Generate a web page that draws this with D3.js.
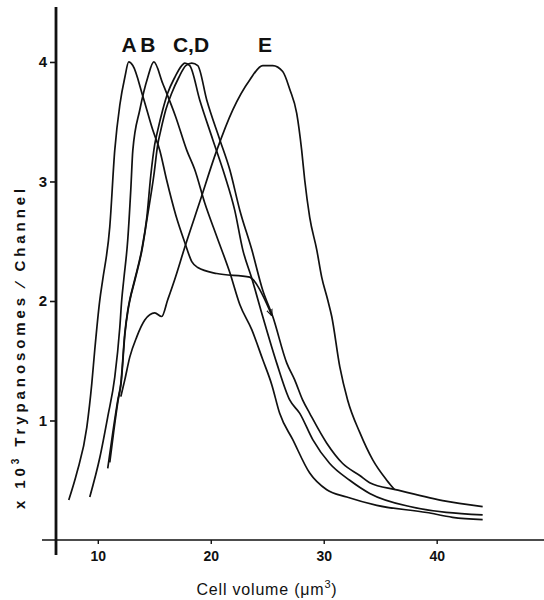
<!DOCTYPE html>
<html>
<head>
<meta charset="utf-8">
<script src="https://cdn.jsdelivr.net/npm/d3@7"></script>
<style>
  html, body { margin: 0; padding: 0; background: #fff; }
  svg { display: block; font-family: "Liberation Sans", Arial, sans-serif; }
</style>
</head>
<body>
<svg id="chart" width="544" height="600"></svg>
<script>
// ---- data (cell volume µm³, x10³ trypanosomes / channel) ----
const seriesA = [[7.43,0.335],[8.14,0.56],[9.03,0.945],[9.47,1.31],[9.73,1.59],[10.18,2.01],[10.44,2.18],
  [11.06,2.62],[11.5,3.26],[11.95,3.64],[12.39,3.87],[12.74,4.0],[13.1,3.97],[14.0,3.71],[14.87,3.43],
  [15.49,3.26],[16.1,3.01],[16.9,2.72],[17.7,2.49],[18.32,2.33],[18.85,2.28],[20.53,2.23],[23.45,2.2],
  [23.72,2.18],[25.4,1.88]];
const seriesB = [[9.29,0.36],[10.18,0.69],[10.88,1.03],[11.5,1.36],[11.95,1.78],[12.12,2.01],[12.3,2.18],
  [12.65,2.51],[12.92,2.93],[13.1,3.26],[13.72,3.6],[14.42,3.87],[14.96,4.0],[15.75,3.82],[16.9,3.54],
  [17.88,3.26],[18.58,3.1],[19.47,2.82],[20.53,2.54],[21.68,2.24],[22.57,1.97],[23.63,1.76],[24.6,1.51],
  [25.4,1.3],[26.1,1.06],[27.26,0.84],[28.76,0.56],[30.27,0.42],[32.04,0.36],[34.7,0.29],[39.12,0.23],
  [41.4,0.19],[44.07,0.17]];
const seriesC = [[10.88,0.6],[11.33,0.9],[11.77,1.17],[12.04,1.31],[12.39,1.73],[12.65,1.92],[12.83,2.01],
  [13.27,2.18],[13.89,2.43],[14.34,2.7],[14.69,3.05],[15.04,3.31],[15.31,3.43],[15.75,3.6],[16.19,3.74],
  [16.81,3.87],[17.43,3.97],[17.7,3.99],[18.14,3.97],[19.03,3.68],[20.18,3.35],[21.24,3.05],[22.12,2.76],
  [22.83,2.43],[23.63,2.19],[24.6,1.87],[25.84,1.48],[27.0,1.17],[27.88,1.06],[29.03,0.84],[30.53,0.64],
  [32.3,0.5],[34.07,0.39],[37.61,0.28],[44.07,0.21]];
const seriesD = [[11.06,0.65],[11.4,0.9],[11.8,1.17],[12.06,1.31],[12.41,1.73],[12.67,1.92],[12.85,2.01],
  [13.3,2.18],[13.92,2.43],[14.38,2.7],[14.96,3.05],[15.31,3.31],[15.58,3.43],[16.02,3.6],[16.55,3.74],
  [17.17,3.87],[17.79,3.97],[18.32,3.99],[18.85,3.97],[19.65,3.68],[20.8,3.35],[21.68,3.1],[22.57,2.76],
  [23.63,2.43],[24.6,2.09],[25.49,1.87],[26.73,1.48],[27.43,1.34],[28.14,1.17],[28.76,1.06],[30.27,0.81],
  [31.68,0.64],[33.19,0.54],[34.07,0.48],[36.46,0.42],[40.53,0.33],[44.07,0.28]];
const seriesE = [[12.04,1.2],[12.39,1.34],[12.83,1.53],[13.45,1.7],[14.16,1.84],[15.04,1.9],[15.66,1.87],
  [16.19,2.01],[16.81,2.18],[17.7,2.45],[19.03,2.83],[20.53,3.26],[21.95,3.6],[23.45,3.85],[24.6,3.97],
  [25.49,3.97],[26.37,3.92],[27.0,3.77],[27.61,3.57],[28.05,3.26],[28.32,3.01],[28.76,2.7],[29.38,2.43],
  [29.82,2.2],[30.35,2.01],[30.71,1.87],[31.42,1.45],[32.12,1.17],[33.19,0.9],[34.34,0.67],[35.58,0.5],
  [36.28,0.42]];

const curveNames = ["A","B","C","D","E"];
const peakLabels = ["A","B","C,D","E"];
const peakLabelX = [12.76, 14.44, 18.25, 24.8];
const peakLabelY = 4.08;
const xTicks = [10,20,30,40];
const yTicks = [1,2,3,4];
const xTitle = "Cell volume (\u03BCm";
const yTitleParts = ["x 10", "3", " Trypanosomes \u2044 Channel"];

// ---- layout ----
const svg = d3.select("#chart");
const x = d3.scaleLinear().domain([6.3, 49.5]).range([56, 544]);
const y = d3.scaleLinear().domain([0, 4.46]).range([540, 7]);

// markers
svg.append("defs").append("marker")
  .attr("id","arrow").attr("viewBox","0 0 10 10").attr("refX",9).attr("refY",5)
  .attr("markerWidth",7).attr("markerHeight",7).attr("markerUnits","userSpaceOnUse")
  .attr("orient","auto")
  .append("path").attr("d","M0,1 L10,5 L0,9").attr("fill","none").attr("stroke","#111").attr("stroke-width",1.6);

// axes
const xAxis = d3.axisBottom(x).tickValues(xTicks).tickFormat(d3.format("d"))
  .tickSize(4).tickSizeOuter(0).tickPadding(6);
const gx = svg.append("g").attr("transform", `translate(0,${y(0)})`).call(xAxis);
gx.select(".domain").remove();
gx.selectAll(".tick line").attr("stroke","#111").attr("stroke-width",1.4);
gx.selectAll(".tick text").attr("font-size",14).attr("fill","#111")
  .attr("font-family","'Liberation Sans', Arial, sans-serif").attr("font-weight","bold").attr("dy","0.75em");
svg.append("line").attr("x1", x(6.3) - 14).attr("x2", x(49.5)).attr("y1", y(0)).attr("y2", y(0))
  .attr("stroke","#111").attr("stroke-width",1.6);

const yAxis = d3.axisLeft(y).tickValues(yTicks).tickFormat(d3.format("d"))
  .tickSize(6).tickSizeOuter(0).tickPadding(3);
const gy = svg.append("g").attr("transform", `translate(${x(6.3)},0)`).call(yAxis);
gy.select(".domain").remove();
gy.selectAll(".tick line").attr("stroke","#111").attr("stroke-width",1.6);
gy.selectAll(".tick text").attr("font-size",15).attr("font-weight","bold").attr("fill","#111")
  .attr("font-family","'Liberation Sans', Arial, sans-serif");
svg.append("line").attr("x1", x(6.3)).attr("x2", x(6.3)).attr("y1", y(4.46)).attr("y2", y(0) + 15)
  .attr("stroke","#111").attr("stroke-width",2.8);

// curves
const line = d3.line().x(d => x(d[0])).y(d => y(d[1])).curve(d3.curveMonotoneX);
const allSeries = [seriesA, seriesB, seriesC, seriesD, seriesE];
svg.append("g").selectAll("path").data(allSeries).join("path")
  .attr("class", (d,i) => "curve-" + curveNames[i])
  .attr("d", line).attr("fill","none").attr("stroke","#111").attr("stroke-width",1.7)
  .attr("stroke-linejoin","round")
  .attr("marker-end", (d,i) => i === 0 ? "url(#arrow)" : null);

// peak labels
svg.append("g").selectAll("text").data(peakLabels).join("text")
  .attr("x", (d,i) => x(peakLabelX[i])).attr("y", y(peakLabelY))
  .attr("text-anchor","middle").attr("font-size",21).attr("font-weight","bold").attr("fill","#111")
  .text(d => d);

// axis titles
const xt = svg.append("text").attr("x", 267).attr("y", 595).attr("text-anchor","middle")
  .attr("font-size",16).attr("fill","#111").attr("letter-spacing","0.8px");
xt.append("tspan").text(xTitle);
xt.append("tspan").attr("dy",-7).attr("font-size",11).text("3");
xt.append("tspan").attr("dy",7).text(")");

const yt = svg.append("text").attr("transform","translate(25,347) rotate(-90)").attr("text-anchor","middle")
  .attr("font-size",15).attr("font-weight","bold").attr("fill","#111").attr("letter-spacing","3.9px");
yt.append("tspan").text(yTitleParts[0]);
yt.append("tspan").attr("dy",-6).attr("font-size",10).text(yTitleParts[1]);
yt.append("tspan").attr("dy",6).text(yTitleParts[2]);
</script>
</body>
</html>
